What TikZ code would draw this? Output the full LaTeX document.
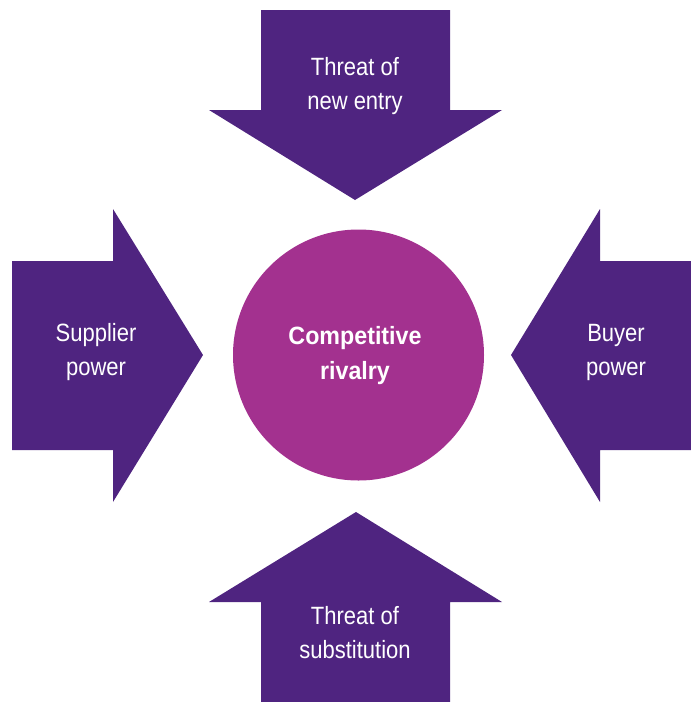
\documentclass[tikz,border=0pt]{standalone}
\usepackage{fontspec}
\setmainfont{Liberation Sans}
\newfontfamily\narrowfont[FakeStretch=0.88]{Liberation Sans}
\newfontfamily\boldfont[FakeStretch=0.93]{Liberation Sans}
\definecolor{forcepurple}{HTML}{4F2480}
\definecolor{rivalmagenta}{HTML}{A3318F}
\begin{document}
\begin{tikzpicture}[x=1pt,y=-1pt,line join=miter,
    force/.style={fill=forcepurple},
    forcetext/.style={text=white,align=center,font=\narrowfont\fontsize{25}{34}\selectfont},
    rivaltext/.style={text=white,align=center,font=\boldfont\bfseries\fontsize{25}{35}\selectfont}]
	\useasboundingbox (0,0) rectangle (691,702);
	% the four forces
	\fill[force] (261,10)--(450,10)--(450,110)--(502,110)--(355,200)--(209,110)--(261,110)--cycle;
	\fill[force] (12,261)--(113,261)--(113,209)--(203,355)--(113,502)--(113,450)--(12,450)--cycle;
	\fill[force] (691,261)--(600,261)--(600,209)--(511,355)--(600,502)--(600,450)--(691,450)--cycle;
	\fill[force] (261,702)--(450,702)--(450,602)--(502,602)--(356,512)--(209,602)--(261,602)--cycle;
	% rivalry in the middle
	\fill[rivalmagenta] (358.5,355) circle (125.5);
	\node[forcetext] (entry) at (355,86) {Threat of\\new entry};
	\node[forcetext] (supplier) at (96,352) {Supplier\\power};
	\node[forcetext] (buyer) at (616,352) {Buyer\\power};
	\node[forcetext] (substitution) at (355,633) {Threat of\\substitution};
	\node[rivaltext] (rivalry) at (355,356) {Competitive\\rivalry};
\end{tikzpicture}
\end{document}
